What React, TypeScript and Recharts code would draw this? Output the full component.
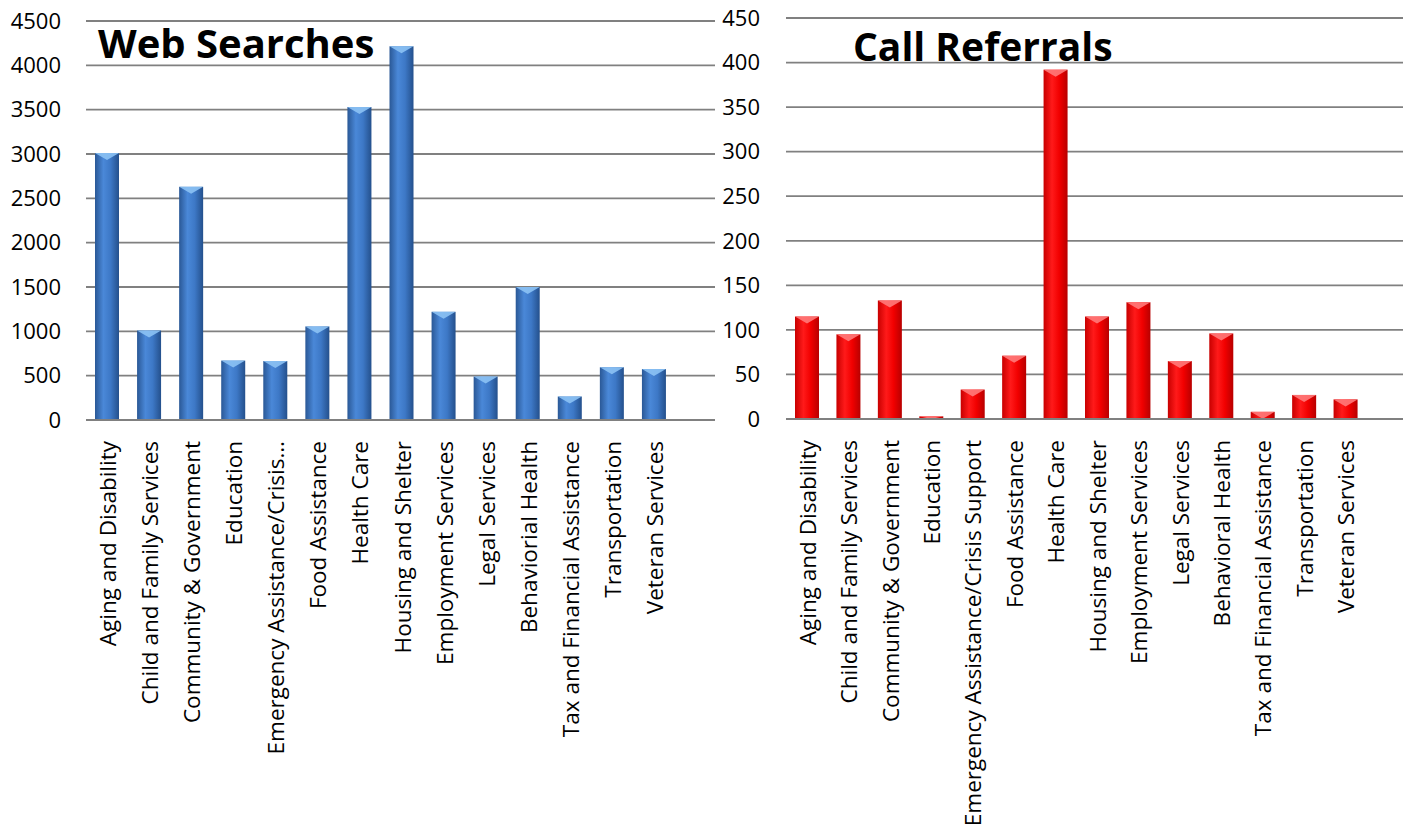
import React from "react";
import { BarChart, Bar, XAxis, YAxis, CartesianGrid } from "recharts";

const webCategories = [
  "Aging and Disability",
  "Child and Family Services",
  "Community & Government",
  "Education",
  "Emergency Assistance/Crisis Support",
  "Food Assistance",
  "Health Care",
  "Housing and Shelter",
  "Employment Services",
  "Legal Services",
  "Behaviorial Health",
  "Tax and Financial Assistance",
  "Transportation",
  "Veteran Services",
];
const webValues = [3010, 1010, 2630, 670, 665, 1055, 3530, 4215, 1220, 490, 1500, 265, 595, 575];
const webTicks = [0, 500, 1000, 1500, 2000, 2500, 3000, 3500, 4000, 4500];

const callCategories = [
  "Aging and Disability",
  "Child and Family Services",
  "Community & Government",
  "Education",
  "Emergency Assistance/Crisis Support",
  "Food Assistance",
  "Health Care",
  "Housing and Shelter",
  "Employment Services",
  "Legal Services",
  "Behavioral Health",
  "Tax and Financial Assistance",
  "Transportation",
  "Veteran Services",
];
const callValues = [115, 95, 133, 3, 33, 71, 392, 115, 131, 65, 96, 8, 27, 22];
const callTicks = [0, 50, 100, 150, 200, 250, 300, 350, 400, 450];

const webData = webCategories.map((name, i) => ({ name, value: webValues[i] }));
const callData = callCategories.map((name, i) => ({ name, value: callValues[i] }));

const FONT = "'Open Sans', sans-serif";
const GRID = "#808080";

const palettes: Record<string, { stops: string[]; bevel: string }> = {
  blue: { stops: ["#2a5896", "#4a88d8", "#3d78c6", "#24508c"], bevel: "#8cc2f4" },
  red: { stops: ["#c80000", "#ff1a1a", "#f20000", "#b80000"], bevel: "#ff7a7a" },
};

function BevelBar(props: any) {
  const { x, y, width, height, palette } = props;
  if (!height || height <= 0) return null;
  const p = palettes[palette];
  const id = `grad-${palette}`;
  const bev = Math.min(7, height);
  return (
    <g>
      <defs>
        <linearGradient id={id} x1="0" y1="0" x2="1" y2="0">
          <stop offset="0%" stopColor={p.stops[0]} />
          <stop offset="35%" stopColor={p.stops[1]} />
          <stop offset="65%" stopColor={p.stops[2]} />
          <stop offset="100%" stopColor={p.stops[3]} />
        </linearGradient>
      </defs>
      <rect x={x} y={y} width={width} height={height} fill={`url(#${id})`} />
      <polygon
        points={`${x},${y} ${x + width},${y} ${x + width / 2},${y + bev}`}
        fill={p.bevel}
        opacity={0.9}
      />
    </g>
  );
}

function RotTick(props: any) {
  const { x, y, payload, truncate } = props;
  let s: string = String(payload.value);
  if (truncate && s.length > 30) s = s.slice(0, 27) + "…";
  return (
    <text
      transform={`translate(${x + 9},${y + 21}) rotate(-90)`}
      textAnchor="end"
      fontSize={22.5}
      fontFamily={FONT}
      fill="#000"
    >
      {s}
    </text>
  );
}

export default function App() {
  return (
    <div style={{ position: "absolute", left: 0, top: 0, width: 1406, height: 833, background: "#fff", overflow: "hidden" }}>
      <div style={{ position: "absolute", left: 0, top: 0 }}>
        <BarChart
          width={720}
          height={833}
          data={webData}
          margin={{ top: 21, right: 5, left: 0, bottom: 0 }}
        >
          <CartesianGrid vertical={false} stroke={GRID} strokeWidth={1.8} />
          <XAxis
            dataKey="name"
            interval={0}
            height={413}
            padding={{ left: 0, right: 40 }}
            axisLine={{ stroke: GRID, strokeWidth: 1.8 }}
            tickLine={false}
            tickSize={0}
            tickMargin={0}
            tick={<RotTick truncate />}
          />
          <YAxis
            width={86}
            domain={[0, 4500]}
            ticks={webTicks}
            interval={0}
            axisLine={false}
            tickLine={false}
            tickSize={0}
            tickMargin={25}
            tick={{ fontSize: 22, fontFamily: FONT, fill: "#000" }}
          />
          <Bar dataKey="value" barSize={24} isAnimationActive={false} shape={(p: any) => <BevelBar {...p} palette="blue" />} />
        </BarChart>
      </div>
      <div style={{ position: "absolute", left: 720, top: 0 }}>
        <BarChart
          width={686}
          height={833}
          data={callData}
          margin={{ top: 18, right: 3, left: 0, bottom: 0 }}
        >
          <CartesianGrid vertical={false} stroke={GRID} strokeWidth={1.8} />
          <XAxis
            dataKey="name"
            interval={0}
            height={414}
            padding={{ left: 0, right: 37 }}
            axisLine={{ stroke: GRID, strokeWidth: 1.8 }}
            tickLine={false}
            tickSize={0}
            tickMargin={0}
            tick={<RotTick />}
          />
          <YAxis
            width={66}
            domain={[0, 450]}
            ticks={callTicks}
            interval={0}
            axisLine={false}
            tickLine={false}
            tickSize={0}
            tickMargin={26}
            tick={{ fontSize: 22, fontFamily: FONT, fill: "#000" }}
          />
          <Bar dataKey="value" barSize={24} isAnimationActive={false} shape={(p: any) => <BevelBar {...p} palette="red" />} />
        </BarChart>
      </div>
      <svg width={1406} height={833} style={{ position: "absolute", left: 0, top: 0, pointerEvents: "none" }}>
        <text x={98} y={58} fontSize={40} fontWeight="bold" fontFamily={FONT} fill="#000">
          Web Searches
        </text>
        <text x={853} y={61} fontSize={39} fontWeight="bold" fontFamily={FONT} fill="#000">
          Call Referrals
        </text>
      </svg>
    </div>
  );
}
